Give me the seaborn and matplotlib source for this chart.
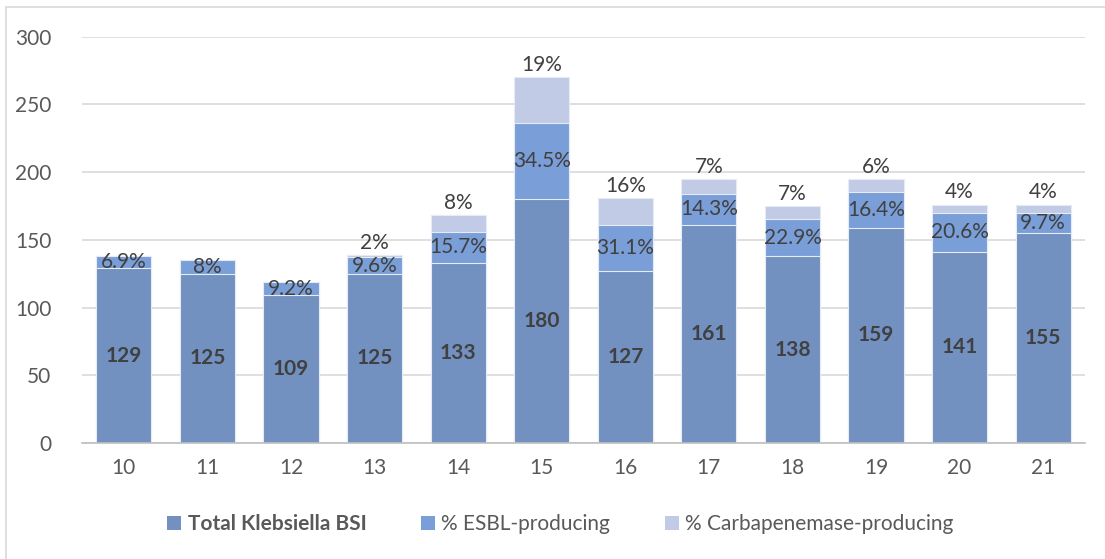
import matplotlib
matplotlib.use("Agg")
import matplotlib.pyplot as plt
from matplotlib.patches import Patch
from matplotlib.lines import Line2D
import numpy as np
import pandas as pd
import seaborn as sns

# Klebsiella bloodstream infections by period
periods = ["10", "11", "12", "13", "14", "15", "16", "17", "18", "19", "20", "21"]
total_bsi = [129, 125, 109, 125, 133, 180, 127, 161, 138, 159, 141, 155]
esbl_count = [9, 10, 10, 12, 23, 56, 34, 23, 27, 26, 29, 15]
carb_count = [0, 0, 0, 2, 12, 34, 20, 11, 10, 10, 6, 6]
esbl_pct = ["6.9%", "8%", "9.2%", "9.6%", "15.7%", "34.5%", "31.1%", "14.3%", "22.9%", "16.4%", "20.6%", "9.7%"]
carb_pct = ["", "", "", "2%", "8%", "19%", "16%", "7%", "7%", "6%", "4%", "4%"]

series_names = ["Total Klebsiella BSI", "% ESBL-producing", "% Carbapenemase-producing"]
colors = ["#7290C0", "#7A9ED7", "#C2CBE6"]
text_color = "#404040"

df = pd.DataFrame({"period": periods, "base": total_bsi,
                   "esbl": esbl_count, "carb": carb_count})
df["lvl1"] = df["base"]
df["lvl2"] = df["base"] + df["esbl"]
df["lvl3"] = df["lvl2"] + df["carb"]

sns.set_theme(style="white")
plt.rcParams["font.family"] = ["Lato", "DejaVu Sans"]

fs = 15

fig = plt.figure(figsize=(11.05, 5.59), dpi=100)
ax = fig.add_axes([0.0742, 0.2075, 0.9077, 0.7272])

# stacked bars drawn back to front from cumulative heights
for col, c in zip(["lvl3", "lvl2", "lvl1"], colors[::-1]):
    sns.barplot(data=df, x="period", y=col, color=c, saturation=1, width=0.66,
                edgecolor="#E6ECF6", linewidth=0.8, ax=ax, zorder=3)

ax.set_ylim(0, 300)
ax.set_xlim(-0.5, len(periods) - 0.5)
ax.set_yticks(np.arange(0, 301, 50))
ax.yaxis.grid(True, color="#D9D9D9", linewidth=1.2, zorder=0)
ax.set_axisbelow(True)
for s in ["left", "right", "top"]:
    ax.spines[s].set_visible(False)
ax.spines["bottom"].set_color("#BFBFBF")
ax.spines["bottom"].set_linewidth(1.2)
ax.spines["bottom"].set_zorder(4)
ax.tick_params(axis="both", length=0, labelsize=fs, colors="#595959")
ax.tick_params(axis="x", pad=11)
ax.tick_params(axis="y", pad=22)
ax.set_xlabel("")
ax.set_ylabel("")

for i in range(len(periods)):
    b = total_bsi[i]
    e = esbl_count[i]
    ax.text(i, b / 2, str(b), ha="center", va="center", fontsize=fs,
            fontweight="bold", color=text_color, zorder=5)
    ax.text(i, b + e / 2, esbl_pct[i], ha="center", va="center", fontsize=fs,
            color=text_color, zorder=5)
    if carb_pct[i]:
        ax.text(i, b + e + carb_count[i] + 1.5, carb_pct[i], ha="center",
                va="bottom", fontsize=fs, color=text_color, zorder=5)

handles = [Patch(facecolor=c, edgecolor="none") for c in colors]
leg = fig.legend(handles, series_names, loc="center", bbox_to_anchor=(0.507, 0.062),
                 ncol=3, frameon=False, fontsize=fs, handlelength=0.7,
                 handleheight=0.7, handletextpad=0.3, columnspacing=2.6)
for t in leg.get_texts():
    t.set_color("#595959")
leg.get_texts()[0].set_fontweight("bold")

# chart frame
fig.add_artist(Line2D([0.0054, 0.0054], [0.0, 0.9875], transform=fig.transFigure,
                      color="#D9D9D9", linewidth=1.2))
fig.add_artist(Line2D([0.0054, 1.0], [0.9875, 0.9875], transform=fig.transFigure,
                      color="#D9D9D9", linewidth=1.2))

fig.savefig("out.png", dpi=100)
